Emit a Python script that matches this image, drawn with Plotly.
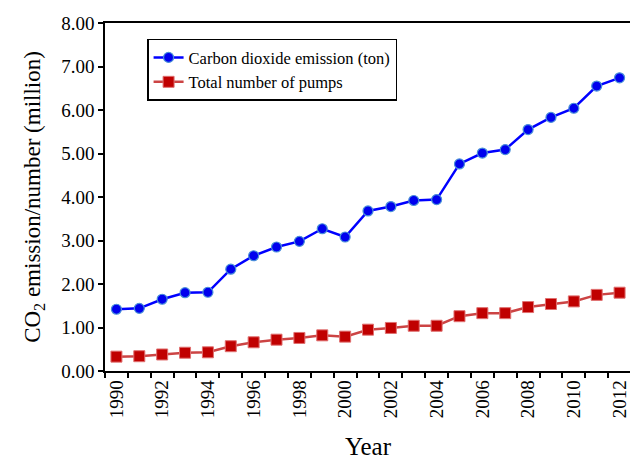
import plotly.graph_objects as go

years = list(range(1990, 2013))
co2 = [1.42, 1.44, 1.65, 1.80, 1.81, 2.34, 2.65, 2.85, 2.98, 3.27, 3.08, 3.68, 3.78,
       3.92, 3.94, 4.76, 5.01, 5.09, 5.55, 5.83, 6.04, 6.55, 6.74]
pumps = [0.33, 0.34, 0.38, 0.42, 0.43, 0.57, 0.66, 0.72, 0.76, 0.82, 0.79, 0.95, 0.99,
         1.04, 1.04, 1.26, 1.33, 1.33, 1.47, 1.54, 1.60, 1.75, 1.80]
xlabels = [str(y) for y in range(1990, 2013, 2)]

font = "Liberation Serif"

fig = go.Figure()
fig.add_trace(go.Scatter(
    x=years, y=co2, name="Carbon dioxide emission (ton)", mode="lines+markers",
    line=dict(color="#0000ff", width=2.5),
    marker=dict(symbol="circle", size=10, color="#0000ee", line=dict(color="#4a90d9", width=1.2)),
))
fig.add_trace(go.Scatter(
    x=years, y=pumps, name="Total number of pumps", mode="lines+markers",
    line=dict(color="#cc4444", width=2.5),
    marker=dict(symbol="square", size=11, color="#c00000", line=dict(color="#e07070", width=1)),
))

fig.update_layout(
    width=630, height=453,
    margin=dict(l=97, r=5, t=11, b=89),
    paper_bgcolor="white", plot_bgcolor="white",
    font=dict(family=font, size=18, color="black"),
    showlegend=True,
    legend=dict(x=0.08, y=0.955, xanchor="left", yanchor="top",
                bordercolor="black", borderwidth=1.5, bgcolor="white",
                font=dict(size=16.5, family=font), tracegroupgap=0),
)
fig.update_xaxes(
    range=[1989.5, 2012.5],
    tickmode="array", tickvals=[int(v) for v in xlabels], ticktext=xlabels,
    tickangle=-90, ticks="", ticklen=0,
    minor=dict(ticks="outside", tick0=1989.5, dtick=1, ticklen=5, tickcolor="black", tickwidth=1.5, showgrid=False),
    showline=True, linecolor="black", linewidth=1.5, mirror=True,
    showgrid=False, zeroline=False,
    tickfont=dict(size=19, family=font),
    title=dict(text="Year", font=dict(size=25, family=font), standoff=20),
)
fig.update_yaxes(
    range=[0, 8], dtick=1, tickformat=".2f",
    ticks="outside", ticklen=5, tickwidth=1.5, tickcolor="black",
    showline=True, linecolor="black", linewidth=1.5, mirror=True,
    showgrid=False, zeroline=False,
    tickfont=dict(size=19, family=font),
    title=dict(text="CO<sub>2</sub> emission/number (million)", font=dict(size=23, family=font), standoff=14),
)

fig.write_html("out.html")
